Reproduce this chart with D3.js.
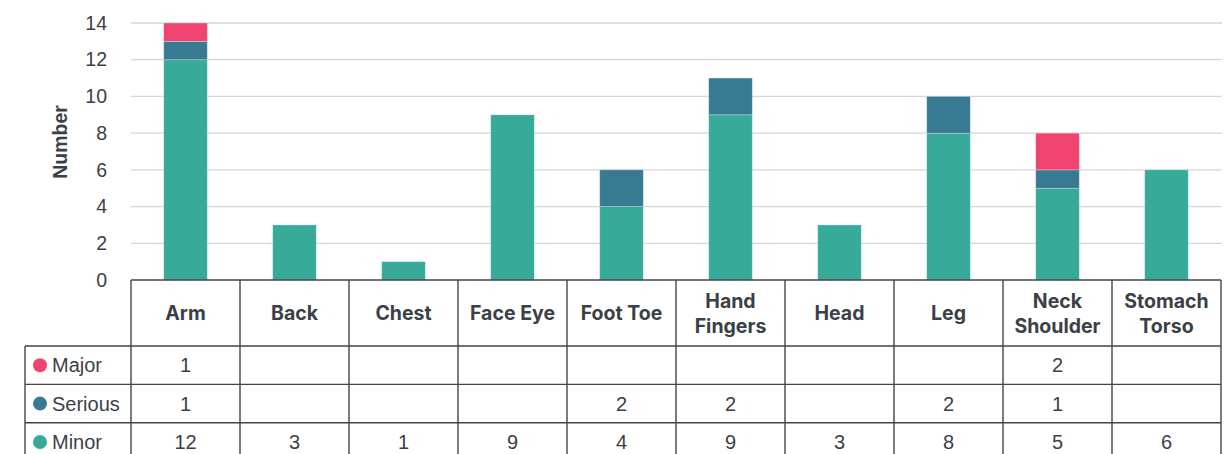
<!DOCTYPE html>
<html><head><meta charset="utf-8">
<script src="https://cdn.jsdelivr.net/npm/d3@7"></script>
<style>body{margin:0;background:#fff}svg{display:block}</style>
</head><body>
<svg id="c" width="1227" height="454"></svg>
<script>
const categories = ["Arm","Back","Chest","Face Eye","Foot Toe","Hand Fingers","Head","Leg","Neck Shoulder","Stomach Torso"];
const headerLines = [["Arm"],["Back"],["Chest"],["Face Eye"],["Foot Toe"],["Hand","Fingers"],["Head"],["Leg"],["Neck","Shoulder"],["Stomach","Torso"]];
const minor   = [12,3,1,9,4,9,3,8,5,6];
const serious = [1,null,null,null,2,2,null,2,1,null];
const major   = [1,null,null,null,null,null,null,null,2,null];
const seriesNames = ["Minor","Serious","Major"];
const seriesColors = ["#38aa99","#387a92","#ef4470"];
const yTicks = [0,2,4,6,8,10,12,14];

const svg = d3.select("#c");
const L = 131, R = 1221, T = 23, B = 280;
const x = d3.scaleBand().domain(categories).range([L,R]).paddingInner(0).paddingOuter(0);
const y = d3.scaleLinear().domain([0,14]).range([B,T]);
const textCol = "#3b3f47", lineCol = "#41454c";
const sans = "Liberation Sans, Arial, sans-serif";

// grid
svg.append("g").selectAll("line").data(yTicks.filter(d=>d>0)).join("line")
  .attr("x1",L).attr("x2",R+1).attr("y1",d=>y(d)).attr("y2",d=>y(d))
  .attr("stroke","#d6d6d6").attr("stroke-width",1.3);

// y axis
const yAxis = svg.append("g").attr("transform",`translate(${L-24},0)`)
  .call(d3.axisLeft(y).tickValues(yTicks).tickSize(0).tickPadding(0));
yAxis.select(".domain").remove();
yAxis.selectAll("text").attr("fill",textCol).style("font-family",sans).style("font-size","19.5px");

svg.append("text").attr("transform",`translate(67,${142}) rotate(-90)`)
  .attr("text-anchor","middle").attr("fill",textCol)
  .style("font-family",sans).style("font-weight","bold").style("font-size","19.5px")
  .text("Number");

// stacked data
const rows = categories.map((c,i)=>({cat:c, Minor:minor[i]||0, Serious:serious[i]||0, Major:major[i]||0}));
const stack = d3.stack().keys(seriesNames)(rows);
const bw = x.bandwidth()*0.4;
svg.append("g").selectAll("g").data(stack).join("g")
  .attr("fill",(d,i)=>seriesColors[i])
  .selectAll("rect").data(d=>d.filter(p=>p[1]>p[0])).join("rect")
  .attr("x",d=>x(d.data.cat)+(x.bandwidth()-bw)/2)
  .attr("width",bw)
  .attr("y",d=>y(d[1])).attr("height",d=>y(d[0])-y(d[1]))
  .attr("stroke","rgba(255,255,255,0.35)").attr("stroke-width",0.8);

// data table
const hTop = B, hBot = 346, rowH = 38.4;
const tableRows = [
  {name:"Major", vals:major, color:seriesColors[2]},
  {name:"Serious", vals:serious, color:seriesColors[1]},
  {name:"Minor", vals:minor, color:seriesColors[0]}
];
const tg = svg.append("g");
const lineAttr = s => s.attr("stroke",lineCol).attr("stroke-width",1.4);
lineAttr(tg.append("line").attr("x1",L).attr("x2",R).attr("y1",hTop).attr("y2",hTop));
[0,1,2,3].forEach(k=>{
  lineAttr(tg.append("line").attr("x1",25).attr("x2",R).attr("y1",hBot+k*rowH).attr("y2",hBot+k*rowH));
});
categories.concat(["__end"]).forEach((c,i)=>{
  const xx = i<categories.length ? x(c) : R;
  lineAttr(tg.append("line").attr("x1",xx).attr("x2",xx).attr("y1",hTop).attr("y2",470));
});
lineAttr(tg.append("line").attr("x1",25).attr("x2",25).attr("y1",hBot).attr("y2",470));

// headers
headerLines.forEach((lines,i)=>{
  const cx = x(categories[i])+x.bandwidth()/2;
  const cy = (hTop+hBot)/2;
  const lh = 25;
  lines.forEach((ln,k)=>{
    tg.append("text").attr("x",cx).attr("y",cy+(k-(lines.length-1)/2)*lh)
      .attr("dy","0.36em").attr("text-anchor","middle").attr("fill",textCol)
      .style("font-family","Inter, Liberation Sans, sans-serif").style("font-weight","bold").style("font-size","19.5px")
      .text(ln);
  });
});

// rows
tableRows.forEach((r,k)=>{
  const cy = hBot + k*rowH + rowH/2;
  tg.append("circle").attr("cx",40).attr("cy",cy).attr("r",7).attr("fill",r.color);
  tg.append("text").attr("x",52).attr("y",cy).attr("dy","0.36em").attr("fill",textCol)
    .style("font-family",sans).style("font-size","20px").text(r.name);
  r.vals.forEach((v,i)=>{
    if(v==null) return;
    tg.append("text").attr("x",x(categories[i])+x.bandwidth()/2).attr("y",cy).attr("dy","0.36em")
      .attr("text-anchor","middle").attr("fill",textCol)
      .style("font-family",sans).style("font-size","20px").text(v);
  });
});
</script>
</body></html>
